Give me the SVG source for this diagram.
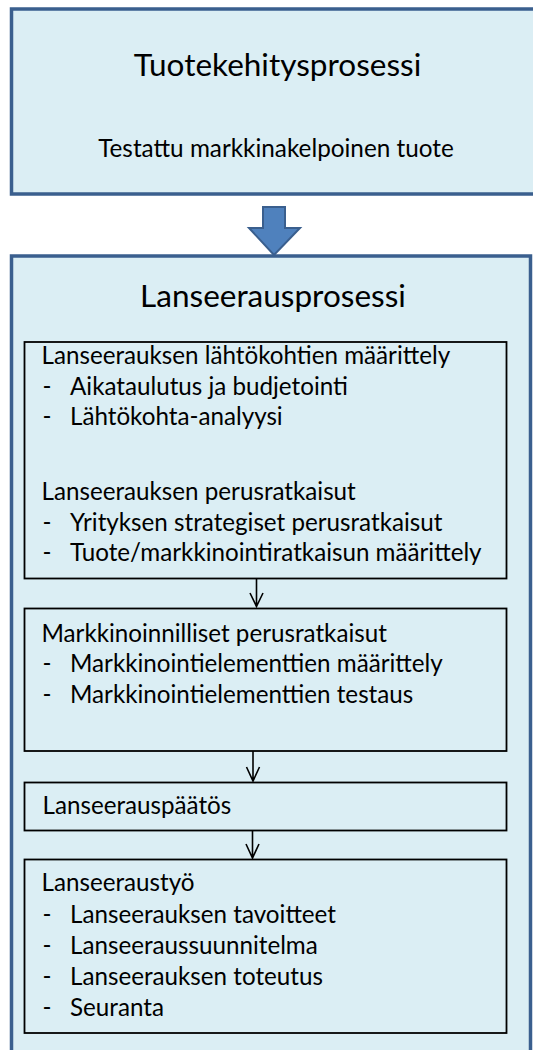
<svg xmlns="http://www.w3.org/2000/svg" width="533" height="1050" viewBox="0 0 533 1050">
<defs>
<style>
.outer{fill:#DBEEF4;stroke:#3A5F8E;stroke-width:3.5}
.inner{fill:none;stroke:#000;stroke-width:1.8}
.t{font-family:Lato,"Liberation Sans",sans-serif;fill:#000}
.title{font-size:31.5px;text-anchor:middle}
.sub{font-size:24.3px;text-anchor:middle}
.b{font-size:24.2px}
.conn{fill:none;stroke:#000;stroke-width:1.6}
</style>
</defs>
<rect width="533" height="1050" fill="#fff"/>
<g id="tuotekehitys">
<rect class="outer" x="11.5" y="9" width="560" height="185"/>
<text class="t title" x="277.5" y="75.5">Tuotekehitysprosessi</text>
<text class="t sub" x="276" y="157">Testattu markkinakelpoinen tuote</text>
</g>
<g id="bigarrow">
<path d="M263,207 H285 V228 H300 L274,255 L249,228 H263 Z" fill="#4F81BD" stroke="#3A5F8E" stroke-width="2"/>
</g>
<g id="lanseeraus">
<rect class="outer" x="11.5" y="256" width="519" height="820"/>
<text class="t title" x="273" y="307">Lanseerausprosessi</text>
</g>
<g id="box1">
<rect class="inner" x="24.5" y="342" width="482" height="236.5"/>
<text class="t b" x="41.5" y="364">Lanseerauksen lähtökohtien määrittely</text>
<text class="t b" x="42.5" y="395">-</text><text class="t b" x="70" y="395">Aikataulutus ja budjetointi</text>
<text class="t b" x="42.5" y="425">-</text><text class="t b" x="70" y="425">Lähtökohta-analyysi</text>
<text class="t b" x="41.5" y="500">Lanseerauksen perusratkaisut</text>
<text class="t b" x="42.5" y="531">-</text><text class="t b" x="70" y="531">Yrityksen strategiset perusratkaisut</text>
<text class="t b" x="42.5" y="561">-</text><text class="t b" x="70" y="561">Tuote/markkinointiratkaisun määrittely</text>
</g>
<g id="box2">
<rect class="inner" x="24.5" y="608.5" width="482" height="142.5"/>
<text class="t b" x="41.5" y="642">Markkinoinnilliset perusratkaisut</text>
<text class="t b" x="42.5" y="672">-</text><text class="t b" x="70" y="672">Markkinointielementtien määrittely</text>
<text class="t b" x="42.5" y="703">-</text><text class="t b" x="70" y="703">Markkinointielementtien testaus</text>
</g>
<g id="box3">
<rect class="inner" x="24.5" y="782.5" width="482" height="48"/>
<text class="t b" x="42.5" y="814">Lanseerauspäätös</text>
</g>
<g id="box4">
<rect class="inner" x="24.5" y="859.5" width="482" height="173.5"/>
<text class="t b" x="41.5" y="891">Lanseeraustyö</text>
<text class="t b" x="42.5" y="923">-</text><text class="t b" x="70" y="923">Lanseerauksen tavoitteet</text>
<text class="t b" x="42.5" y="954">-</text><text class="t b" x="70" y="954">Lanseeraussuunnitelma</text>
<text class="t b" x="42.5" y="985">-</text><text class="t b" x="70" y="985">Lanseerauksen toteutus</text>
<text class="t b" x="42.5" y="1016">-</text><text class="t b" x="70" y="1016">Seuranta</text>
</g>
<g id="connectors">
<path class="conn" d="M256.5,579 V607 M250,593 L256.5,606.5 L263,593"/>
<path class="conn" d="M253,751 V781.5 M246.5,767 L253,781 L259.5,767"/>
<path class="conn" d="M252.5,830.5 V858.5 M246,844 L252.5,858 L259,844"/>
</g>
</svg>
